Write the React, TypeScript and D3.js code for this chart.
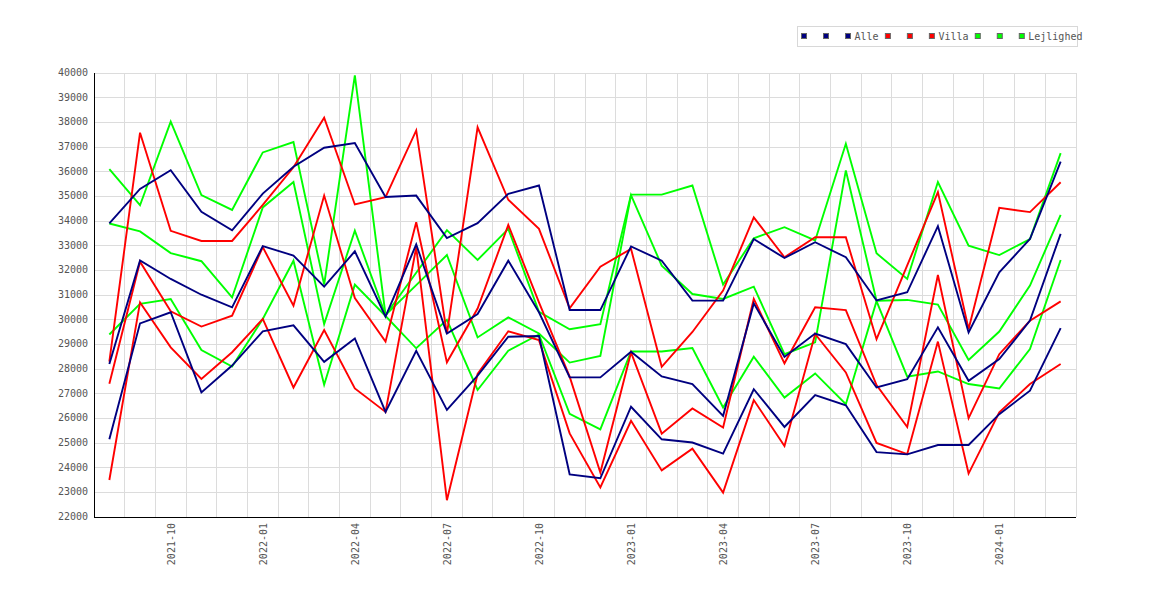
import * as d3 from "d3";

// --- Data ---

const months = [
  "2021-08", "2021-09", "2021-10", "2021-11", "2021-12",
  "2022-01", "2022-02", "2022-03", "2022-04", "2022-05", "2022-06",
  "2022-07", "2022-08", "2022-09", "2022-10", "2022-11", "2022-12",
  "2023-01", "2023-02", "2023-03", "2023-04", "2023-05", "2023-06",
  "2023-07", "2023-08", "2023-09", "2023-10", "2023-11", "2023-12",
  "2024-01", "2024-02", "2024-03",
];

const yTicks = [
  22000, 23000, 24000, 25000, 26000, 27000, 28000, 29000, 30000, 31000,
  32000, 33000, 34000, 35000, 36000, 37000, 38000, 39000, 40000,
];

// only these months get a label under the axis
const xTickLabels = [
  "2021-10", "2022-01", "2022-04", "2022-07", "2022-10",
  "2023-01", "2023-04", "2023-07", "2023-10", "2024-01",
];

const alleHigh = [
  33900, 35300, 36060, 34370, 33620, 35110, 36200, 36970, 37160, 34970, 35030,
  33310, 33910, 35100, 35440, 30390, 30390, 32970, 32390, 30770, 30770, 33270,
  32500, 33140, 32530, 30780, 31110, 33790, 29480, 31920, 33270, 36410,
];
const alleMid = [
  28200, 32400, 31650, 31010, 30500, 32980, 32600, 31340, 32770, 30120, 33050,
  29440, 30230, 32390, 30300, 27660, 27660, 28700, 27700, 27390, 26100, 30660,
  28490, 29440, 29010, 27250, 27590, 29690, 27520, 28400, 29960, 33480,
];
const alleLow = [
  25150, 29850, 30300, 27050, 28140, 29530, 29770, 28290, 29240, 26260, 28740,
  26340, 27730, 29310, 29340, 23730, 23570, 26470, 25150, 25020, 24570, 27180,
  25650, 26940, 26530, 24630, 24540, 24920, 24920, 26170, 27120, 29660,
];

const villaHigh = [
  28300, 37580, 33600, 33190, 33190, 34650, 36180, 38190, 34670, 34970, 37670,
  29420, 37800, 34860, 33680, 30460, 32150, 32870, 28090, 29500, 31180, 34150,
  32530, 33340, 33340, 29210, 32200, 35170, 29620, 34530, 34360, 35570,
];
const villaMid = [
  27400, 32350, 30340, 29720, 30160, 32940, 30570, 35030, 30880, 29110, 33950,
  28270, 30450, 33840, 30700, 27690, 23800, 28670, 25380, 26400, 25630, 30840,
  28230, 30500, 30390, 27350, 25650, 31810, 26010, 28600, 29960, 30740,
];
const villaLow = [
  23500, 30700, 28880, 27600, 28680, 30030, 27250, 29580, 27210, 26260, 32935,
  22680, 27800, 29530, 29170, 25390, 23200, 25900, 23890, 24770, 22990, 26740,
  24880, 29420, 27860, 25000, 24550, 29110, 23760, 26240, 27390, 28200,
];

const lejHigh = [
  36100, 34640, 38030, 35050, 34450, 36780, 37200, 31420, 39900, 30190, 31900,
  33630, 32420, 33680, 30320, 29610, 29820, 35070, 35070, 35440, 31420, 33300,
  33750, 33210, 37130, 32690, 31650, 35580, 33000, 32620, 33270, 36750,
];
const lejMid = [
  33900, 33580, 32700, 32370, 30900, 34550, 35580, 29820, 33610, 30190, 31400,
  32620, 29280, 30090, 29440, 28260, 28530, 35050, 32190, 31040, 30840, 31340,
  28600, 29080, 36050, 30770, 30800, 30610, 28370, 29520, 31380, 34250,
];
const lejLow = [
  29400, 30640, 30840, 28770, 28100, 30030, 32390, 27360, 31420, 30150, 28840,
  29990, 27150, 28740, 29400, 26180, 25550, 28710, 28710, 28850, 26440, 28500,
  26840, 27820, 26570, 30750, 27690, 27900, 27390, 27210, 28810, 32420,
];

type Group = { label: string; color: string; lines: number[][] };

const groups: Group[] = [
  { label: "Alle", color: "#000080", lines: [alleHigh, alleMid, alleLow] },
  { label: "Villa", color: "#ff0000", lines: [villaHigh, villaMid, villaLow] },
  { label: "Lejlighed", color: "#00ff00", lines: [lejHigh, lejMid, lejLow] },
];

// --- Layout ---

const WIDTH = 1170;
const HEIGHT = 600;

const PLOT = { left: 94, right: 1076, top: 73, bottom: 517 };

const FONT = {
  family: "'DejaVu Sans Mono', monospace",
  size: 10,
  color: "#555",
  charWidth: 6.02,
};

const LEGEND = {
  x: 797,
  y: 26,
  width: 280,
  height: 20,
  startX: 801,
  markerSize: 6,
  markerStep: 22,
  textGap: 9.5,
  groupGap: 6.3,
};

const LINE_WIDTH = 1.9;

export default function App() {
  const x = d3
    .scaleBand<string>()
    .domain(months)
    .range([PLOT.left, PLOT.right])
    .padding(0);

  const y = d3
    .scaleLinear()
    .domain([22000, 40000])
    .range([PLOT.bottom, PLOT.top]);

  const cx = (m: string) => (x(m) ?? 0) + x.bandwidth() / 2;

  const line = d3
    .line<number>()
    .x((_, i) => cx(months[i]))
    .y((d) => y(d));

  // legend items: three markers per group, text only after the last one
  const legendItems: { x: number; color: string; text?: string; textX?: number }[] = [];
  let lx = LEGEND.startX;
  groups.forEach((g) => {
    g.lines.forEach((_, i) => {
      if (i < g.lines.length - 1) {
        legendItems.push({ x: lx, color: g.color });
        lx += LEGEND.markerStep;
      } else {
        const textX = lx + LEGEND.textGap;
        legendItems.push({ x: lx, color: g.color, text: g.label, textX });
        lx = textX + g.label.length * FONT.charWidth + LEGEND.groupGap;
      }
    });
  });

  // draw Lejlighed first so Alle ends up on top
  const drawOrder = [...groups].reverse();

  return (
    <svg
      width={WIDTH}
      height={HEIGHT}
      style={{ position: "absolute", left: 0, top: 0, background: "#fff" }}
      fontFamily={FONT.family}
      fontSize={FONT.size}
    >
      <rect x={0} y={0} width={WIDTH} height={HEIGHT} fill="#fff" />

      {/* grid */}
      <g stroke="#dcdcdc" strokeWidth={1} shapeRendering="crispEdges">
        {yTicks.map((t) => (
          <line key={"h" + t} x1={PLOT.left} x2={PLOT.right} y1={y(t)} y2={y(t)} />
        ))}
        {months.map((m) => {
          const gx = (x(m) ?? 0) + x.bandwidth();
          return <line key={"v" + m} x1={gx} x2={gx} y1={PLOT.top} y2={PLOT.bottom} />;
        })}
      </g>

      {/* series */}
      {drawOrder.map((g) =>
        g.lines.map((values, i) => (
          <path
            key={g.label + i}
            d={line(values) ?? ""}
            fill="none"
            stroke={g.color}
            strokeWidth={LINE_WIDTH}
            strokeLinejoin="miter"
          />
        )),
      )}

      {/* axes */}
      <g stroke="#000" strokeWidth={1} shapeRendering="crispEdges">
        <line x1={PLOT.left} x2={PLOT.left} y1={PLOT.top} y2={PLOT.bottom} />
        <line x1={PLOT.left} x2={PLOT.right} y1={PLOT.bottom} y2={PLOT.bottom} />
      </g>

      {/* y labels */}
      {yTicks.map((t) => (
        <text
          key={"yl" + t}
          x={PLOT.left - 6}
          y={y(t)}
          textAnchor="end"
          dominantBaseline="middle"
          fill={FONT.color}
        >
          {t}
        </text>
      ))}

      {/* x labels */}
      {xTickLabels.map((m) => (
        <text
          key={"xl" + m}
          transform={`translate(${cx(m) + 1},${PLOT.bottom + 6}) rotate(-90)`}
          textAnchor="end"
          dominantBaseline="middle"
          fill={FONT.color}
        >
          {m}
        </text>
      ))}

      {/* legend */}
      <rect
        x={LEGEND.x + 0.5}
        y={LEGEND.y + 0.5}
        width={LEGEND.width}
        height={LEGEND.height}
        fill="#fff"
        stroke="#d8d8d8"
      />
      {legendItems.map((it, i) => (
        <g key={"lg" + i}>
          <rect
            x={it.x + 0.5}
            y={LEGEND.y + 7.5}
            width={LEGEND.markerSize - 1}
            height={LEGEND.markerSize - 1}
            fill={it.color}
            stroke="#666"
            strokeWidth={1}
          />
          {it.text && (
            <text
              x={it.textX}
              y={LEGEND.y + 10.5}
              dominantBaseline="middle"
              fill={FONT.color}
            >
              {it.text}
            </text>
          )}
        </g>
      ))}
    </svg>
  );
}
